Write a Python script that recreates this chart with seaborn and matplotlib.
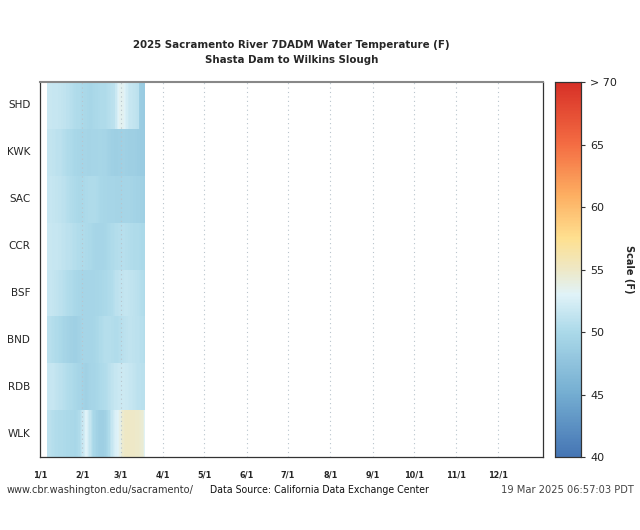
import numpy as np
import pandas as pd
import matplotlib
matplotlib.use('Agg')
import matplotlib.pyplot as plt
from matplotlib.colors import LinearSegmentedColormap
import seaborn as sns

# stations, upstream to downstream
stations = ['SHD', 'KWK', 'SAC', 'CCR', 'BSF', 'BND', 'RDB', 'WLK']

# 7DADM temperature (F), one value per day from 6 Jan 2025 to 18 Mar 2025
first_day = '2025-01-06'

shd = [51.8, 51.8, 51.7, 51.7, 51.6, 51.6, 51.5, 51.5, 51.4,
       51.4, 51.3, 51.3, 51.2, 51.2, 51.0, 50.9, 50.8, 50.7,
       50.6, 50.5, 50.4, 50.3, 50.2, 50.2, 50.1, 50.0, 50.0,
       49.9, 49.9, 49.8, 49.8, 49.7, 49.7, 49.8, 49.9, 50.0,
       50.0, 50.1, 50.1, 50.2, 50.2, 50.3, 50.3, 50.4, 50.5,
       50.6, 50.7, 50.8, 50.9, 51.0, 51.8, 52.5, 53.0, 53.3,
       53.4, 53.3, 53.0, 52.6, 52.2, 51.8, 51.6, 51.5, 51.4,
       51.3, 51.2, 51.1, 51.0, 48.8, 48.6, 48.5, 48.4, 48.4]
kwk = [51.4, 51.4, 51.3, 51.3, 51.2, 51.2, 51.1, 51.0, 50.9,
       50.9, 50.8, 50.7, 50.6, 50.5, 50.4, 50.3, 50.2, 50.1,
       50.0, 49.9, 49.8, 49.8, 49.7, 49.7, 49.6, 49.6, 49.5,
       49.5, 49.5, 49.4, 49.4, 49.4, 49.5, 49.5, 49.6, 49.6,
       49.6, 49.7, 49.7, 49.7, 49.6, 49.6, 49.5, 49.4, 49.3,
       49.2, 49.1, 49.0, 49.0, 48.9, 48.9, 48.9, 49.0, 49.0,
       49.0, 49.1, 49.1, 49.0, 49.0, 48.9, 48.9, 48.8, 48.8,
       48.8, 48.7, 48.7, 48.6, 48.6, 48.5, 48.5, 48.5, 48.4]
sac = [51.6, 51.6, 51.5, 51.5, 51.4, 51.4, 51.3, 51.3, 51.2,
       51.2, 51.1, 51.0, 50.9, 50.8, 50.7, 50.6, 50.5, 50.4,
       50.3, 50.2, 50.1, 50.0, 50.0, 49.9, 49.9, 49.9, 50.0,
       50.0, 50.1, 50.1, 50.2, 50.2, 50.3, 50.3, 50.2, 50.2,
       50.1, 50.0, 49.9, 49.8, 49.8, 49.7, 49.7, 49.7, 49.6,
       49.6, 49.6, 49.5, 49.5, 49.5, 49.4, 49.4, 49.4, 49.4,
       49.4, 49.5, 49.5, 49.6, 49.6, 49.5, 49.5, 49.4, 49.4,
       49.3, 49.3, 49.2, 49.2, 49.2, 49.1, 49.1, 49.0, 49.0]
ccr = [51.8, 51.8, 51.7, 51.7, 51.6, 51.6, 51.5, 51.5, 51.4,
       51.4, 51.3, 51.2, 51.2, 51.1, 51.0, 50.9, 50.9, 50.8,
       50.7, 50.6, 50.6, 50.5, 50.4, 50.4, 50.3, 50.3, 50.2,
       50.2, 50.1, 50.1, 50.0, 50.0, 49.9, 49.8, 49.7, 49.6,
       49.6, 49.5, 49.5, 49.5, 49.6, 49.6, 49.7, 49.8, 49.9,
       50.0, 50.1, 50.2, 50.3, 50.4, 50.5, 50.5, 50.6, 50.6,
       50.6, 50.7, 50.7, 50.6, 50.6, 50.5, 50.5, 50.4, 50.4,
       50.3, 50.3, 50.2, 50.2, 50.1, 50.1, 50.0, 50.0, 50.0]
bsf = [51.6, 51.6, 51.5, 51.5, 51.4, 51.3, 51.3, 51.2, 51.1,
       51.0, 50.9, 50.8, 50.7, 50.6, 50.5, 50.4, 50.3, 50.2,
       50.1, 50.0, 49.9, 49.8, 49.8, 49.7, 49.7, 49.6, 49.6,
       49.6, 49.5, 49.5, 49.5, 49.5, 49.6, 49.6, 49.6, 49.7,
       49.7, 49.7, 49.8, 49.8, 49.9, 49.9, 50.0, 50.0, 50.1,
       50.2, 50.3, 50.4, 50.6, 50.7, 50.9, 51.0, 51.1, 51.2,
       51.3, 51.3, 51.4, 51.4, 51.4, 51.3, 51.3, 51.2, 51.2,
       51.1, 51.0, 50.9, 50.8, 50.7, 50.6, 50.5, 50.4, 50.3]
bnd = [50.8, 50.8, 50.7, 50.6, 50.5, 50.4, 50.3, 50.2, 50.1,
       50.0, 49.9, 49.8, 49.6, 49.5, 49.4, 49.3, 49.2, 49.1,
       49.1, 49.0, 49.0, 49.0, 49.1, 49.2, 49.3, 49.4, 49.5,
       49.6, 49.6, 49.6, 49.5, 49.5, 49.5, 49.6, 49.7, 49.8,
       49.9, 50.0, 50.2, 50.3, 50.4, 50.5, 50.6, 50.6, 50.6,
       50.6, 50.6, 50.5, 50.5, 50.4, 50.4, 50.4, 50.5, 50.6,
       50.7, 50.8, 50.9, 51.0, 51.1, 51.2, 51.2, 51.2, 51.1,
       51.1, 51.0, 51.0, 50.9, 50.8, 50.7, 50.7, 50.6, 50.5]
rdb = [51.7, 51.6, 51.6, 51.5, 51.5, 51.4, 51.3, 51.2, 51.1,
       51.0, 50.9, 50.8, 50.7, 50.6, 50.5, 50.4, 50.3, 50.2,
       50.1, 50.0, 49.9, 49.8, 49.7, 49.6, 49.5, 49.4, 49.3,
       49.2, 49.1, 49.2, 49.3, 49.4, 49.5, 49.5, 49.6, 49.7,
       49.8, 49.9, 50.0, 50.1, 50.2, 50.3, 50.4, 50.5, 50.6,
       50.8, 51.0, 51.2, 51.3, 51.5, 51.6, 51.7, 51.8, 51.8,
       51.9, 51.9, 51.9, 51.8, 51.8, 51.7, 51.6, 51.5, 51.4,
       51.3, 51.2, 51.1, 51.0, 50.9, 50.9, 50.8, 50.8, 50.8]
wlk = [51.0, 50.9, 50.8, 50.7, 50.6, 50.5, 50.4, 50.4, 50.3,
       50.3, 50.2, 50.2, 50.1, 50.1, 50.0, 50.0, 50.0, 49.9,
       49.9, 49.9, 49.8, 49.9, 50.0, 50.2, 50.6, 51.2, 51.8,
       52.3, 53.0, 52.6, 52.0, 51.4, 50.8, 50.2, 49.8, 49.5,
       49.2, 49.0, 48.9, 48.8, 48.8, 48.9, 49.1, 49.4, 49.8,
       50.3, 50.9, 51.5, 52.0, 52.4, 52.7, 52.9, 53.2, 53.6,
       54.2, 54.7, 54.9, 55.0, 55.0, 55.0, 55.0, 54.9, 54.9,
       54.9, 54.8, 54.8, 54.8, 54.7, 54.6, 54.5, 54.1, 53.2]

month_labels = ['1/1', '2/1', '3/1', '4/1', '5/1', '6/1',
                '7/1', '8/1', '9/1', '10/1', '11/1', '12/1']
cbar_ticks = [40, 45, 50, 55, 60, 65, 70]
cbar_labels = ['40', '45', '50', '55', '60', '65', '> 70']

# colour scale 40..70 F
scale_pts = [40, 45, 50, 53, 55, 57.5, 61, 65, 70]
scale_cols = ['#4575b4', '#74add1', '#abd9e9', '#e0f3f8', '#eee8c6',
              '#fee090', '#fdae61', '#f46d43', '#d73027']
cmap = LinearSegmentedColormap.from_list(
    'cdec', [((v - 40) / 30, c) for v, c in zip(scale_pts, scale_cols)])

# full year grid, days without data stay empty
year_days = pd.date_range('2025-01-01', '2026-01-02', freq='D')
obs_days = pd.date_range(first_day, periods=len(shd), freq='D')
series = dict(zip(stations, [shd, kwk, sac, ccr, bsf, bnd, rdb, wlk]))
grid = pd.DataFrame(np.nan, index=stations, columns=year_days)
for s in stations:
    grid.loc[s, obs_days] = series[s]

month_pos = [(pd.Timestamp('2025-%d-01' % m) - year_days[0]).days for m in range(1, 13)]

sns.set_style('white')
plt.rcParams['font.family'] = 'DejaVu Sans'

fig = plt.figure(figsize=(6.4, 5.3), dpi=100)
ax = fig.add_axes([0.0625, 0.1377, 0.7855, 0.7075])
cax = fig.add_axes([0.867, 0.1377, 0.041, 0.7075])

sns.heatmap(grid.values, ax=ax, cmap=cmap, vmin=40, vmax=70,
            cbar_ax=cax, xticklabels=False, yticklabels=stations)

for p in month_pos[1:]:
    ax.axvline(p, color='#b8c4cc', linestyle=(0, (1, 3)), linewidth=0.8, zorder=5)

ax.set_xticks(month_pos)
ax.set_xticklabels(month_labels, fontsize=6.5, fontweight='bold', rotation=0,
                   fontstretch='condensed')
ax.set_yticks(np.arange(len(stations)) + 0.5)
ax.set_yticklabels(stations, fontsize=7.5, rotation=0)
ax.tick_params(axis='both', length=4, width=0.8, color='#333333', pad=3)
ax.tick_params(axis='x', pad=6)
for sp in ax.spines.values():
    sp.set_visible(True)
    sp.set_color('#333333')
    sp.set_linewidth(0.9)
ax.spines['top'].set_color('#888888')
ax.spines['top'].set_linewidth(1.5)

fig.text(0.455, 0.915, '2025 Sacramento River 7DADM Water Temperature (F)',
         fontstretch='condensed', fontsize=8.2, fontweight='bold',
         ha='center', va='center')
fig.text(0.455, 0.886, 'Shasta Dam to Wilkins Slough',
         fontstretch='condensed', fontsize=8.2, fontweight='bold',
         ha='center', va='center')

cax.set_yticks(cbar_ticks)
cax.set_yticklabels(cbar_labels, fontsize=8, color='#222222')
cax.tick_params(axis='y', length=3, width=0.8, color='#333333')
for sp in cax.spines.values():
    sp.set_visible(True)
    sp.set_color('#333333')
    sp.set_linewidth(0.8)
cax.set_ylabel('Scale (F)', rotation=270, fontsize=7, fontweight='bold', labelpad=12)

fig.text(0.01, 0.075, 'www.cbr.washington.edu/sacramento/', fontsize=7.8,
         fontstretch='condensed', color='#333333', va='center')
fig.text(0.328, 0.075, 'Data Source: California Data Exchange Center', fontsize=7.6,
         fontstretch='condensed', color='#111111', va='center')
fig.text(0.99, 0.075, '19 Mar 2025 06:57:03 PDT', fontsize=7.9,
         fontstretch='condensed', color='#444444', va='center', ha='right')

fig.savefig('out.png', dpi=100)
